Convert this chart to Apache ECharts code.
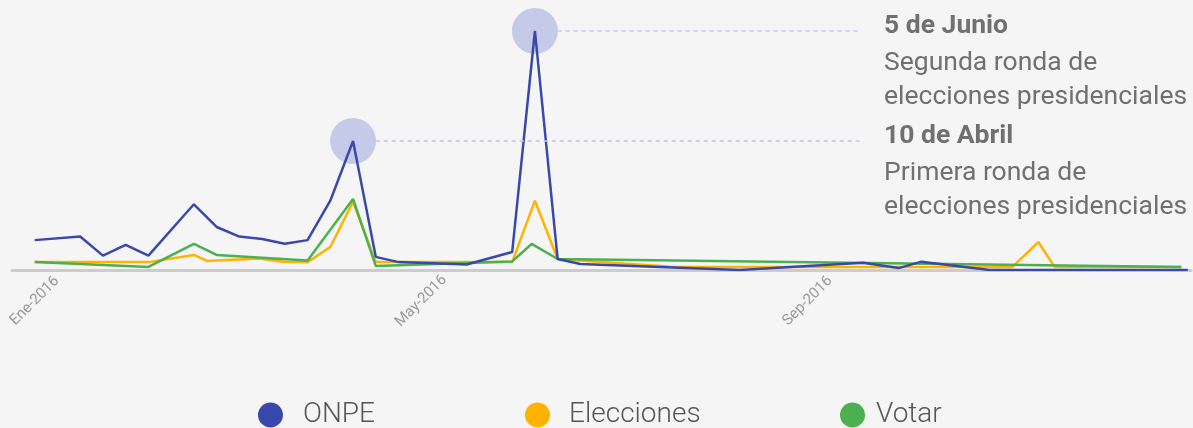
<!DOCTYPE html>
<html>
<head>
    <meta charset="utf-8">
    <title>ONPE / Elecciones / Votar - 2016</title>
    <script src="https://cdn.jsdelivr.net/npm/echarts@6/dist/echarts.min.js"></script>
    <style>
        html, body { margin: 0; padding: 0; background: #f5f5f5; }
        #main { width: 1193px; height: 428px; }
    </style>
</head>
<body>
<div id="main"></div>
<script>
    // interés de búsqueda (0-100)
    var onpeFechas = ['2016-01-03', '2016-01-17', '2016-01-24', '2016-01-31', '2016-02-07', '2016-02-21', '2016-02-28',
        '2016-03-06', '2016-03-13', '2016-03-20', '2016-03-27', '2016-04-03', '2016-04-10', '2016-04-17', '2016-04-24',
        '2016-05-15', '2016-05-29', '2016-06-05', '2016-06-12', '2016-06-19', '2016-08-07', '2016-09-14', '2016-09-25',
        '2016-10-02', '2016-10-23', '2016-12-23'];
    var onpeValores = [12.5, 14, 6, 10.5, 6, 27.5, 18, 14, 13, 11, 12.5, 29, 54, 5.5, 3.3, 2.3, 7.5, 100, 4.6, 2.5, 0, 3, 0.8, 3.5, 0, 0];

    var eleccionesFechas = ['2016-01-03', '2016-02-07', '2016-02-21', '2016-02-25', '2016-03-12', '2016-03-20', '2016-03-27',
        '2016-04-03', '2016-04-10', '2016-04-17', '2016-05-29', '2016-06-05', '2016-06-12', '2016-07-18', '2016-10-30',
        '2016-11-07', '2016-11-12', '2016-12-21'];
    var eleccionesValores = [3.3, 3.3, 6.3, 3.8, 4.8, 3.3, 3.3, 9.6, 28.5, 3.3, 3.3, 29, 4.6, 1.3, 1.3, 11.7, 1.3, 1.3];

    var votarFechas = ['2016-01-03', '2016-02-07', '2016-02-21', '2016-02-28', '2016-03-27', '2016-04-10', '2016-04-17',
        '2016-05-29', '2016-06-04', '2016-06-12', '2016-12-21'];
    var votarValores = [3.3, 1.3, 10.9, 6.3, 4, 29.7, 1.7, 3.6, 10.9, 4.6, 1.3];

    var ejeFechas = ['2016-01-03', '2016-05-01', '2016-08-28'];
    var ejeEtiquetas = ['Ene-2016', 'May-2016', 'Sep-2016'];

    var hitoFechas = ['2016-04-10', '2016-06-05'];
    var hitoTitulos = ['10 de Abril', '5 de Junio'];
    var hitoTextos = ['Primera ronda de\nelecciones presidenciales', 'Segunda ronda de\nelecciones presidenciales'];
    var hitoFin = '2016-09-13';

    // días desde el 1 de enero de 2016
    function dia(f) {
        return Math.round((Date.parse(f) - Date.parse('2016-01-01')) / 86400000);
    }
    function puntos(fechas, valores) {
        return fechas.map(function (f, i) { return [dia(f), valores[i]]; });
    }

    var ejeDias = ejeFechas.map(dia);
    var hitos = hitoFechas.map(function (f) {
        return [dia(f), onpeValores[onpeFechas.indexOf(f)]];
    });

    var myChart = echarts.init(document.getElementById('main'));

    function leyenda(nombre, izq, sep) {
        return {
            data: [nombre],
            left: izq,
            top: 396,
            icon: 'circle',
            itemWidth: 25,
            itemHeight: 25,
            textStyle: {
                fontFamily: 'Roboto',
                fontSize: 28,
                fontWeight: 300,
                color: '#555',
                padding: [0, 0, 0, sep]
            }
        };
    }

    var option = {
        backgroundColor: '#f5f5f5',
        animation: false,
        grid: { left: 12, right: 2, top: 31, bottom: 158 },
        legend: [
            leyenda('ONPE', 253, 15),
            leyenda('Elecciones', 520, 14),
            leyenda('Votar', 835, 6)
        ],
        xAxis: {
            type: 'value',
            min: -5,
            max: 358,
            axisLine: { lineStyle: { color: '#cccccc', width: 3 } },
            axisTick: { show: false },
            splitLine: { show: false },
            axisLabel: {
                customValues: ejeDias,
                rotate: 45,
                align: 'center',
                verticalAlign: 'middle',
                margin: 31,
                fontFamily: 'Roboto',
                fontSize: 15,
                color: '#999999',
                formatter: function (v) {
                    var i = ejeDias.indexOf(v);
                    return i >= 0 ? ejeEtiquetas[i] : '';
                }
            }
        },
        yAxis: {
            type: 'value',
            min: 0,
            max: 100,
            show: false,
            splitLine: { show: false }
        },
        series: [
            {
                name: 'hitos',
                type: 'scatter',
                z: 1,
                silent: true,
                symbolSize: 46,
                itemStyle: { color: '#c5cae9', opacity: 1 },
                data: hitos,
                markLine: {
                    silent: true,
                    symbol: ['none', 'none'],
                    label: { show: false },
                    lineStyle: { color: '#c5cae9', width: 1.5, type: [4, 4] },
                    data: hitos.map(function (h) {
                        return [{ coord: [h[0] + 7, h[1]] }, { coord: [dia(hitoFin), h[1]] }];
                    })
                }
            },
            {
                name: 'Elecciones',
                type: 'line',
                symbol: 'none',
                color: '#ffb300',
                lineStyle: { width: 2.5 },
                data: puntos(eleccionesFechas, eleccionesValores)
            },
            {
                name: 'Votar',
                type: 'line',
                symbol: 'none',
                color: '#4caf50',
                lineStyle: { width: 2.5 },
                data: puntos(votarFechas, votarValores)
            },
            {
                name: 'ONPE',
                type: 'line',
                symbol: 'none',
                color: '#3949ab',
                lineStyle: { width: 2.5 },
                data: puntos(onpeFechas, onpeValores)
            }
        ]
    };
    myChart.setOption(option);

    // textos de los hitos, a la derecha de las líneas punteadas
    var textos = [];
    hitos.forEach(function (h, i) {
        var p = myChart.convertToPixel({ seriesIndex: 3 }, h);
        textos.push({
            type: 'text',
            x: 884,
            y: p[1] - 5,
            style: {
                text: hitoTitulos[i],
                font: 'bold 26.5px Roboto',
                fill: '#707070',
                verticalAlign: 'middle'
            }
        });
        textos.push({
            type: 'text',
            x: 884,
            y: p[1] + 15,
            style: {
                text: hitoTextos[i],
                font: '26.5px Roboto',
                lineHeight: 34,
                fill: '#707070',
                verticalAlign: 'top'
            }
        });
    });
    myChart.setOption({ graphic: textos });
</script>
</body>
</html>
